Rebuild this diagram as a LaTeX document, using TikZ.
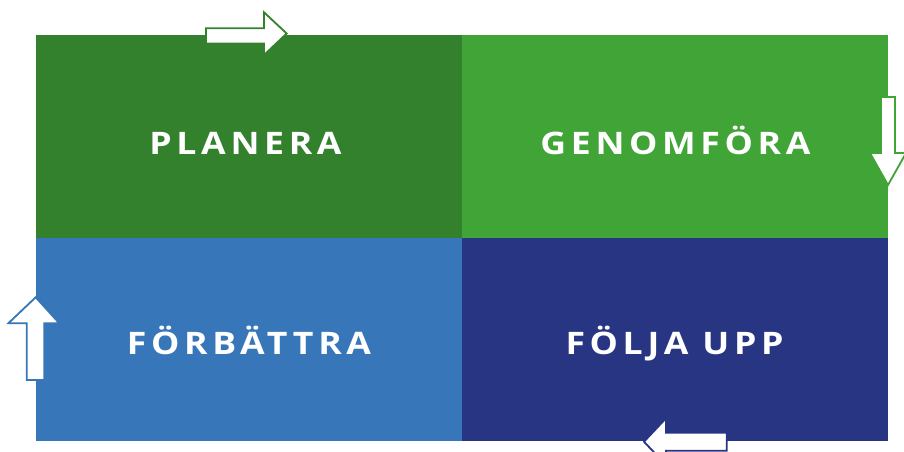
\documentclass[tikz,border=0pt]{standalone}
\usepackage{fontspec}
\newfontfamily\labelfont[LetterSpace=15, FakeStretch=1.15]{Open Sans Bold}
\definecolor{dkgreen}{HTML}{33812D}
\definecolor{ltgreen}{HTML}{41A437}
\definecolor{midblue}{HTML}{3876BA}
\definecolor{navy}{HTML}{283583}
\tikzset{
  cell/.style={rectangle, inner sep=0pt, minimum width=426pt, minimum height=203pt, draw=none},
  celltext/.style={anchor=base, text=white, font=\labelfont\fontsize{31}{33}\selectfont, inner sep=0pt},
  blockarrow/.style={fill=white, draw=#1, line width=1.8pt, line join=miter}
}
\begin{document}
\begin{tikzpicture}[x=1pt, y=-1pt]
\useasboundingbox (0,0) rectangle (904,452);
\fill[white] (0,0) rectangle (904,452);
% cells
\node[cell, fill=dkgreen] (planera) at (249,136.5) {};
\node[cell, fill=ltgreen] (genomfora) at (675,136.5) {};
\node[cell, fill=midblue] (forbattra) at (249,339.5) {};
\node[cell, fill=navy] (foljaupp) at (675,339.5) {};
% labels
\node[celltext] (t1) at (245.5,154) {PLANERA};
\node[celltext] (t2) at (675.5,154) {GENOMFÖRA};
\node[celltext] (t3) at (249,354) {FÖRBÄTTRA};
\node[celltext] (t4) at (674.5,354) {FÖLJA UPP};
% arrows
\draw[blockarrow=dkgreen] (206,28.3) -- (264,28.3) -- (264,12.3) -- (286.7,33.5) -- (264,55) -- (264,43.5) -- (206,43.5) -- cycle;
\draw[blockarrow=ltgreen] (881,97) -- (895,97) -- (895,153) -- (906,153) -- (888,185) -- (870,153) -- (881,153) -- cycle;
\draw[blockarrow=midblue] (26.7,380) -- (26.7,323.3) -- (8.3,323.3) -- (35.7,297.3) -- (59.3,323.3) -- (44.3,323.3) -- (44.3,380) -- cycle;
\draw[blockarrow=navy] (726.7,432.7) -- (666,432.7) -- (666,418.3) -- (644,441.7) -- (666,465) -- (666,450.7) -- (726.7,450.7) -- cycle;
\end{tikzpicture}
\end{document}
